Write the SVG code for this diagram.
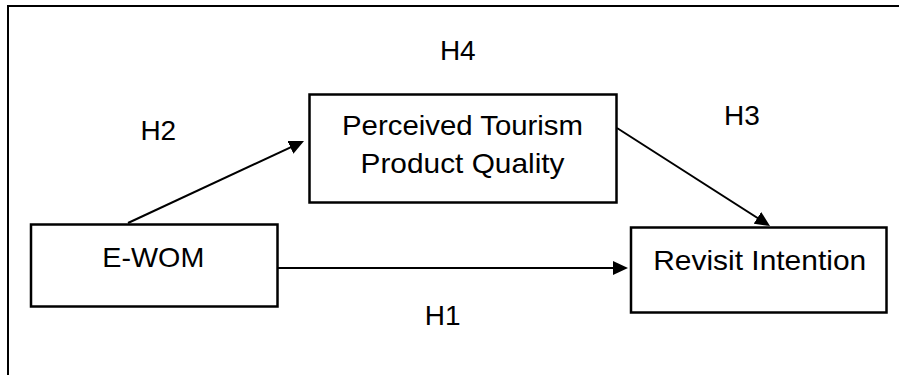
<svg xmlns="http://www.w3.org/2000/svg" width="899" height="375" viewBox="0 0 899 375">
  <style>
    .box { fill: #ffffff; stroke: #000000; stroke-width: 2.5; }
    .frame { fill: none; stroke: #000000; stroke-width: 2; }
    .edge { fill: none; stroke: #000000; stroke-width: 2; }
    .lbl { font-family: "Liberation Sans", Arial, sans-serif; font-size: 28px; fill: #000000; text-anchor: middle; }
  </style>
  <defs>
    <marker id="arrow" viewBox="0 0 15 14" refX="12" refY="7" markerWidth="15" markerHeight="14" markerUnits="userSpaceOnUse" orient="auto">
      <path d="M0,0 L15,7 L0,14 z" fill="#000000"/>
    </marker>
  </defs>
  <rect width="899" height="375" fill="#ffffff"/>
  <path class="frame" d="M8,375 L8,6 L899,6"/>

  <g id="connectors">
    <line class="edge" x1="128" y1="223" x2="301.3" y2="142.3" marker-end="url(#arrow)"/>
    <line class="edge" x1="617" y1="128" x2="767.5" y2="224.4" marker-end="url(#arrow)"/>
    <line class="edge" x1="278" y1="268" x2="625" y2="268" marker-end="url(#arrow)"/>
  </g>

  <g id="node-ptpq">
    <rect class="box" x="309.5" y="94.5" width="307" height="108"/>
    <text class="lbl" x="462.5" y="135" textLength="241" lengthAdjust="spacingAndGlyphs">Perceived Tourism</text>
    <text class="lbl" x="462.5" y="173" textLength="204" lengthAdjust="spacingAndGlyphs">Product Quality</text>
  </g>

  <g id="node-ewom">
    <rect class="box" x="31" y="224.5" width="246.5" height="82"/>
    <text class="lbl" x="153.3" y="266.5" textLength="102" lengthAdjust="spacingAndGlyphs">E-WOM</text>
  </g>

  <g id="node-revisit">
    <rect class="box" x="631" y="227.5" width="255.5" height="85"/>
    <text class="lbl" x="759.7" y="270" textLength="213" lengthAdjust="spacingAndGlyphs">Revisit Intention</text>
  </g>

  <g id="labels">
    <text class="lbl" x="457.8" y="60">H4</text>
    <text class="lbl" x="158.3" y="140">H2</text>
    <text class="lbl" x="742" y="125">H3</text>
    <text class="lbl" x="442.7" y="325">H1</text>
  </g>
</svg>
